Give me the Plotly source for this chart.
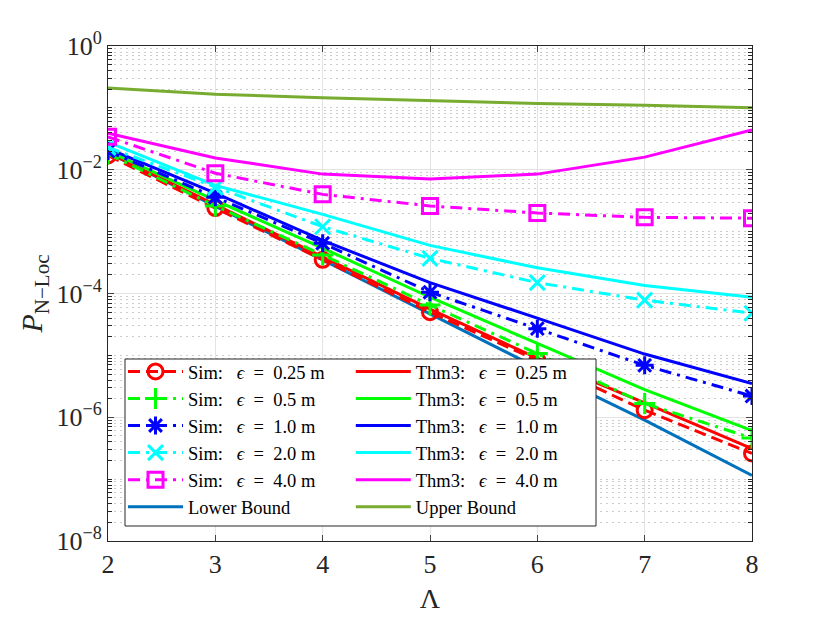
import plotly.graph_objects as go

# x axis: Lambda
lam = [2, 3, 4, 5, 6, 7, 8]

# simulation curves
sim_025 = [1.7e-2, 2.4e-3, 3.5e-4, 5.0e-5, 8.3e-6, 1.3e-6, 2.6e-7]
sim_05 = [1.8e-2, 2.6e-3, 4.2e-4, 6.5e-5, 1.07e-5, 1.67e-6, 4.6e-7]
sim_1 = [2.0e-2, 3.6e-3, 6.5e-4, 1.05e-4, 2.7e-5, 6.9e-6, 2.2e-6]
sim_2 = [2.3e-2, 5.2e-3, 1.2e-3, 3.7e-4, 1.5e-4, 7.8e-5, 4.8e-5]
sim_4 = [3.4e-2, 8.8e-3, 4.0e-3, 2.6e-3, 2.0e-3, 1.7e-3, 1.65e-3]

# Theorem 3 curves
thm_025 = [1.9e-2, 2.7e-3, 3.9e-4, 5.6e-5, 9.0e-6, 1.7e-6, 3.1e-7]
thm_05 = [2.0e-2, 3.2e-3, 5.4e-4, 8.7e-5, 1.56e-5, 2.8e-6, 6.1e-7]
thm_1 = [2.2e-2, 4.2e-3, 7.2e-4, 1.5e-4, 4.0e-5, 1.05e-5, 3.5e-6]
thm_2 = [2.8e-2, 5.6e-3, 1.9e-3, 6.0e-4, 2.6e-4, 1.35e-4, 8.7e-5]
thm_4 = [3.9e-2, 1.55e-2, 8.5e-3, 7.1e-3, 8.5e-3, 1.6e-2, 4.4e-2]

# bounds
lower = [1.9e-2, 2.6e-3, 3.5e-4, 4.7e-5, 6.3e-6, 9.0e-7, 1.15e-7]
upper = [0.21, 0.166, 0.146, 0.130, 0.118, 0.110, 0.100]

eps_labels = ["0.25", "0.5", "1.0", "2.0", "4.0"]
colors = ["#FF0000", "#00FF00", "#0000FF", "#00FFFF", "#FF00FF"]
symbols = ["circle-open", "cross-thin-open", "asterisk-open", "x-thin-open", "square-open"]

FONT = "Liberation Serif, DejaVu Serif, serif"
DASHDOT = "12px,6px,3px,6px"
NB = "\u00a0"


def eps_name(prefix, val):
    return f"{prefix}:{NB * 3}<i>ϵ</i>{NB * 2}={NB * 2}{val}{NB}m"


fig = go.Figure()

sims = [sim_025, sim_05, sim_1, sim_2, sim_4]
thms = [thm_025, thm_05, thm_1, thm_2, thm_4]

fig.add_trace(go.Scatter(x=lam, y=lower, mode="lines", name="Lower Bound",
                         line=dict(color="#0072BD", width=3), legend="legend",
                         legendrank=10))
fig.add_trace(go.Scatter(x=lam, y=upper, mode="lines", name="Upper Bound",
                         line=dict(color="#77AC30", width=3), legend="legend2",
                         legendrank=10))

for i in range(5):
    fig.add_trace(go.Scatter(
        x=lam, y=thms[i], mode="lines", name=eps_name("Thm3", eps_labels[i]),
        line=dict(color=colors[i], width=3), legend="legend2", legendrank=i))

for i in range(5):
    dash = "12px,6px" if i == 0 else DASHDOT
    fig.add_trace(go.Scatter(
        x=lam, y=sims[i], mode="lines+markers", name=eps_name("Sim", eps_labels[i]),
        line=dict(color=colors[i], width=3, dash=dash),
        marker=dict(symbol=symbols[i], size=15, color=colors[i],
                    line=dict(width=3, color=colors[i])),
        legend="legend", legendrank=i))

leg_common = dict(bgcolor="rgba(0,0,0,0)", borderwidth=0, yanchor="top",
                  xanchor="left", font=dict(family=FONT, size=18.5, color="#000"),
                  itemwidth=55, traceorder="normal", tracegroupgap=0)

fig.update_layout(
    width=830, height=623,
    margin=dict(l=100, r=86, t=38, b=90),
    plot_bgcolor="white", paper_bgcolor="white",
    font=dict(family=FONT, color="#262626"),
    showlegend=True,
    legend=dict(x=0.0233, y=0.38, **leg_common),
    legend2=dict(x=0.377, y=0.38, **leg_common),
    shapes=[dict(type="rect", xref="paper", yref="paper",
                 x0=(125 - 108) / 644, x1=(596 - 108) / 644,
                 y0=(541 - 526) / 495, y1=(541 - 359) / 495,
                 fillcolor="white", line=dict(color="#262626", width=1),
                 layer="above")],
)

fig.update_xaxes(
    range=[2, 8], dtick=1, ticks="inside", ticklen=6, mirror="ticks",
    showline=True, linecolor="#262626", linewidth=1,
    showgrid=True, gridcolor="#e3e3e3", gridwidth=1, zeroline=False,
    tickfont=dict(family=FONT, size=26, color="#262626"),
    title=dict(text="Λ", font=dict(family=FONT, size=28, color="#262626"), standoff=10),
)

ytv = [1, 1e-2, 1e-4, 1e-6, 1e-8]
ytt = ["10<sup>0</sup>", "10<sup>−2</sup>", "10<sup>−4</sup>", "10<sup>−6</sup>", "10<sup>−8</sup>"]
fig.update_yaxes(
    type="log", range=[-8, 0], tickvals=ytv, ticktext=ytt,
    ticks="inside", ticklen=6, mirror="ticks",
    showline=True, linecolor="#262626", linewidth=1,
    showgrid=True, gridcolor="#e3e3e3", gridwidth=1, zeroline=False,
    minor=dict(dtick="D1", ticks="inside", ticklen=4, tickcolor="#262626",
               showgrid=True, gridcolor="#cccccc", griddash="2px,4px", gridwidth=1),
    tickfont=dict(family=FONT, size=26, color="#262626"),
    title=dict(text="<i>P</i><sub>N−Loc</sub>", font=dict(family=FONT, size=30, color="#262626"),
               standoff=4),
)

fig.write_html("out.html")
